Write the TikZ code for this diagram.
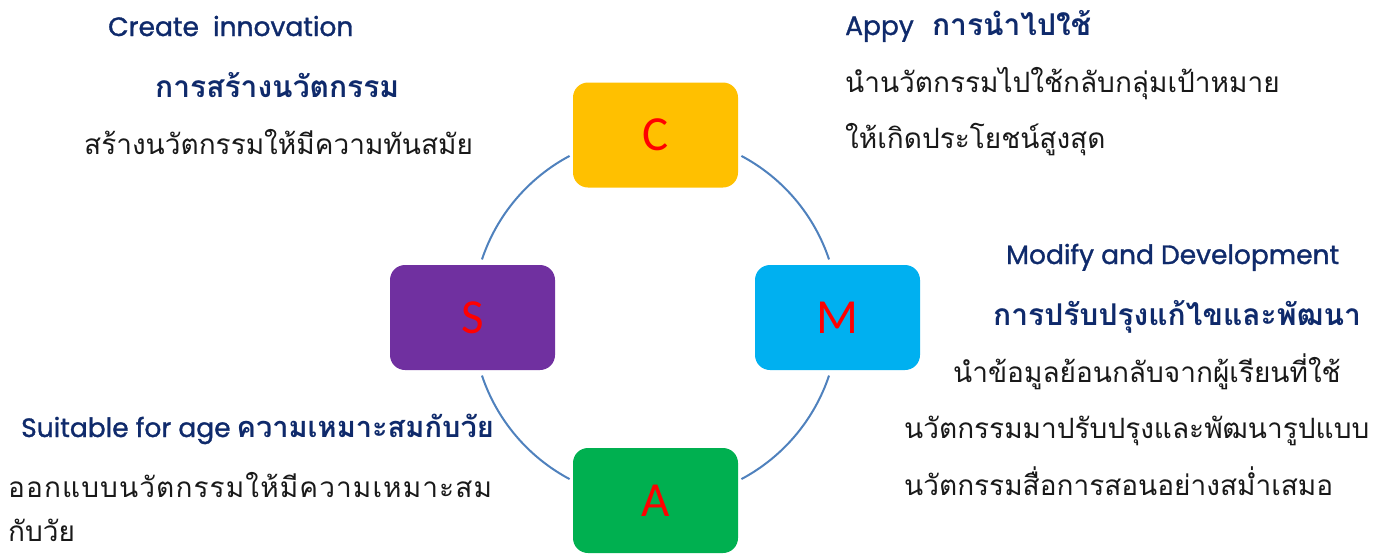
\documentclass[tikz,border=0pt]{standalone}
\usepackage{fontspec}
\setmainfont{Carlito}
\newfontfamily\thaifont[Script=Thai]{Loma}
\newfontfamily\enfont[FakeBold=1.2]{Poppins}
\usetikzlibrary{positioning}
\definecolor{boxC}{HTML}{FFC000}
\definecolor{boxS}{HTML}{7030A0}
\definecolor{boxM}{HTML}{00B0F0}
\definecolor{boxA}{HTML}{00B050}
\definecolor{headblue}{HTML}{0F2A6B}
\definecolor{ringblue}{HTML}{4F81BD}
\newcommand{\entxt}[1]{{\enfont\fontsize{26.5}{26.5}\selectfont #1}}
\newcommand{\thtxt}[1]{{\thaifont\bfseries\fontsize{30}{30}\selectfont #1}}
\tikzset{
  letterbox/.style={rounded corners=15pt, minimum width=165pt, minimum height=105pt,
    inner sep=0pt, text=red, font=\fontsize{49}{49}\selectfont},
  head/.style={anchor=base west, inner sep=0pt, text=headblue,
    font=\thaifont\fontsize{27}{27}\selectfont},
  body/.style={anchor=base west, inner sep=0pt, text=black!90,
    font=\thaifont\fontsize{28}{28}\selectfont},
  ring/.style={draw=ringblue, line width=2pt}
}

\begin{document}
\begin{tikzpicture}[x=1pt, y=-1pt]
	\useasboundingbox (0, 0) rectangle (1393, 555);
	\coordinate (ctr) at (655.5, 317.5);

	% arcs of the ring
	\foreach \s/\e in {18.5/62, 118/161.5, 198.5/242, 298/341.5}
		\draw[ring] ([shift={(\s:183)}]ctr) arc[start angle=\s, end angle=\e, radius=183];

	% boxes
	\node[letterbox, fill=boxC] (C) at (655.5, 135) {C};
	\node[letterbox, fill=boxS] (S) at (472.5, 317.5) {S};
	\node[letterbox, fill=boxM] (M) at (837.5, 317.5) {M};
	\node[letterbox, fill=boxA] (A) at (655.5, 500.5) {A};

	% create
	\node[head] (cEn) at (108, 36) {\entxt{Create~~innovation}};
	\node[head] (cTh) at (155, 97) {\thtxt{การสร้างนวัตกรรม}};
	\node[body] (cTx) at (84, 154) {สร้างนวัตกรรมให้มีความทันสมัย};

	% apply
	\node[head] (aHd) at (845, 35) {\entxt{Appy}~~\thtxt{การนำไปใช้}};
	\node[body] (aTx1) at (845, 92) {นำนวัตกรรมไปใช้กลับกลุ่มเป้าหมาย};
	\node[body] (aTx2) at (845, 148) {ให้เกิดประโยชน์สูงสุด};

	% modify
	\node[head] (mEn) at (1006, 264) {\entxt{Modify and Development}};
	\node[head] (mTh) at (993, 325) {\thtxt{การปรับปรุงแก้ไขและพัฒนา}};
	\node[body] (mTx1) at (953, 382) {นำข้อมูลย้อนกลับจากผู้เรียนที่ใช้};
	\node[body] (mTx2) at (904, 438) {นวัตกรรมมาปรับปรุงและพัฒนารูปแบบ};
	\node[body] (mTx3) at (904, 495) {นวัตกรรมสื่อการสอนอย่างสม่ำเสมอ};

	% suitable
	\node[head] (sHd) at (21, 437) {\entxt{Suitable for age}\hspace{6pt}{\thaifont\bfseries\fontsize{29}{29}\selectfont ความเหมาะสมกับวัย}};
	\node[body] (sTx1) at (8, 497) {\addfontfeature{LetterSpace=4}ออกแบบนวัตกรรมให้มีความเหมาะสม};
	\node[body, text depth=0pt] (sTx2) at (8, 541) {กับวัย};
\end{tikzpicture}
\end{document}
